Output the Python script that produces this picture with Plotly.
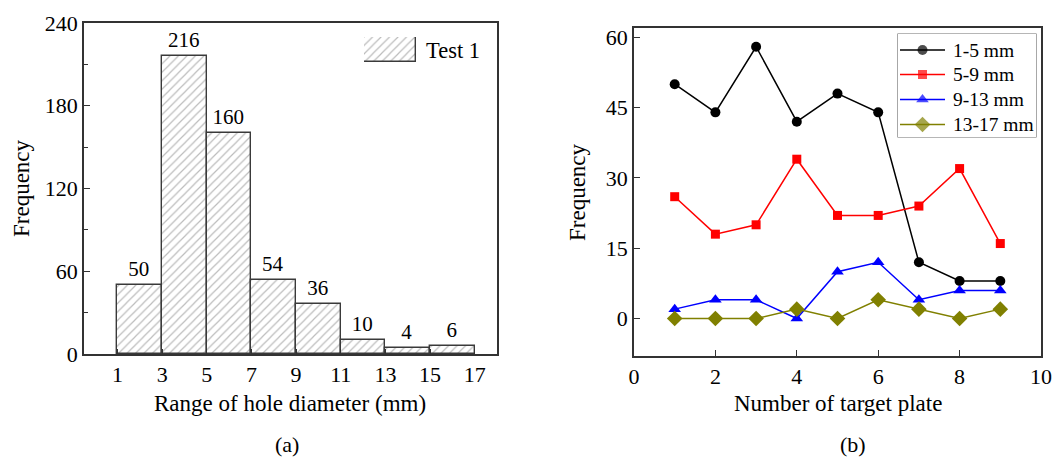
import plotly.graph_objects as go

# ---- data ----
bin_left = [1, 3, 5, 7, 9, 11, 13, 15]
bin_width = 2
counts = [50, 216, 160, 54, 36, 10, 4, 6]
hist_name = "Test 1"

plates = [1, 2, 3, 4, 5, 6, 7, 8, 9]
series_names = ["1-5 mm", "5-9 mm", "9-13 mm", "13-17 mm"]
s_1_5 = [50, 44, 58, 42, 48, 44, 12, 8, 8]
s_5_9 = [26, 18, 20, 34, 22, 22, 24, 32, 16]
s_9_13 = [2, 4, 4, 0, 10, 12, 4, 6, 6]
s_13_17 = [0, 0, 0, 2, 0, 4, 2, 0, 2]

left_xticks = [1, 3, 5, 7, 9, 11, 13, 15, 17]
left_yticks = [0, 60, 120, 180, 240]
left_yminor = [30, 90, 150, 210]
right_xticks = [0, 2, 4, 6, 8, 10]
right_yticks = [0, 15, 30, 45, 60]

W, H = 1054, 457
FONT = "Liberation Serif, Times New Roman, serif"
AXC = "#333333"

def px_x(p):
    return p / W

def px_y(p):
    return 1 - p / H

fig = go.Figure()

pattern = dict(shape="/", fgcolor="#7a7a7a", bgcolor="white", size=6, solidity=0.2)

centers = [b + bin_width / 2 for b in bin_left]
fig.add_trace(go.Bar(
    x=centers, y=counts, width=[bin_width] * len(counts),
    marker=dict(color="white", pattern=pattern, line=dict(color="#3a3a3a", width=1.4)),
    text=[str(c) for c in counts], textposition="outside", cliponaxis=False,
    constraintext="none",
    textfont=dict(family=FONT, size=21, color="black"),
    xaxis="x", yaxis="y", showlegend=False, name=hist_name,
))

# legend swatch for histogram (own hidden axes)
fig.add_trace(go.Bar(
    x=[0.5], y=[1], width=[1],
    marker=dict(color="white", pattern=pattern, line=dict(color="#3a3a3a", width=1.4)),
    xaxis="x3", yaxis="y3", showlegend=False, hoverinfo="skip",
))

colors = ["black", "#ff0000", "#0000ff", "#808000"]
symbols = ["circle", "square", "triangle-up", "diamond"]
sizes = [10, 9, 11, 12]
all_series = [s_1_5, s_5_9, s_9_13, s_13_17]
for name, vals, c, s, sz in zip(series_names, all_series, colors, symbols, sizes):
    fig.add_trace(go.Scatter(
        x=plates, y=vals, name=name, mode="lines+markers",
        line=dict(color=c, width=1.5),
        marker=dict(symbol=s, size=sz, color=c),
        xaxis="x2", yaxis="y2", cliponaxis=False, showlegend=False,
    ))

# ---- custom legend for panel (b), drawn on a hidden pixel-unit axis ----
LG_L, LG_R, LG_T, LG_B = 898, 1036, 34, 137
row_y = [50, 74.5, 99.5, 124.5]
line_x0, line_x1 = 900, 945
for name, c, s, sz, ry in zip(series_names, colors, symbols, sizes, row_y):
    fig.add_trace(go.Scatter(
        x=[line_x0, (line_x0 + line_x1) / 2, line_x1], y=[ry, ry, ry],
        mode="lines+markers", line=dict(color=c, width=1.5),
        marker=dict(symbol=s, size=[0, sz, 0], color=c, line=dict(width=0)),
        xaxis="x4", yaxis="y4", showlegend=False, hoverinfo="skip", cliponaxis=False,
    ))

tickfont = dict(family=FONT, size=22, color="black")
common_axis = dict(showline=True, linecolor=AXC, linewidth=1.5, mirror=True,
                   ticks="inside", tickcolor=AXC, tickwidth=1.2, showgrid=False,
                   zeroline=False, tickfont=tickfont, automargin=False)

fig.update_layout(
    width=W, height=H,
    margin=dict(l=0, r=0, t=0, b=0, pad=0, autoexpand=False),
    paper_bgcolor="white", plot_bgcolor="white",
    font=dict(family=FONT, color="black"),
    bargap=0,
    showlegend=False,
    xaxis=dict(domain=[px_x(84), px_x(497)], range=[-0.5, 18], tickvals=left_xticks,
               ticklen=5, anchor="y", **common_axis),
    yaxis=dict(domain=[px_y(354), px_y(23)], range=[0, 240], tickvals=left_yticks,
               ticklen=6, anchor="x",
               minor=dict(ticks="inside", ticklen=4, tickvals=left_yminor, tickcolor=AXC),
               **common_axis),
    xaxis2=dict(domain=[px_x(634), px_x(1041)], range=[0, 10], tickvals=right_xticks,
                ticklen=6, anchor="y2", **common_axis),
    yaxis2=dict(domain=[px_y(356), px_y(28)], range=[-8, 62], tickvals=right_yticks,
                ticklen=6, anchor="x2", **common_axis),
    xaxis3=dict(domain=[px_x(364), px_x(416)], range=[0, 1], visible=False, anchor="y3", fixedrange=True),
    yaxis3=dict(domain=[px_y(62), px_y(37)], range=[0, 1], visible=False, anchor="x3", fixedrange=True),
    xaxis4=dict(domain=[px_x(LG_L), px_x(LG_R)], range=[LG_L, LG_R], visible=False,
                anchor="y4", fixedrange=True),
    yaxis4=dict(domain=[px_y(LG_B), px_y(LG_T)], range=[LG_B, LG_T], visible=False,
                anchor="x4", fixedrange=True),
)

# legend frame for panel (b)
fig.add_shape(type="rect", xref="paper", yref="paper",
              x0=px_x(LG_L), x1=px_x(LG_R), y0=px_y(LG_B), y1=px_y(LG_T),
              line=dict(color="#6e6e6e", width=1.2), fillcolor="rgba(0,0,0,0)", layer="below")

ann = [
    dict(text="Frequency", x=px_x(21), y=px_y(188), textangle=-90, font=dict(size=23)),
    dict(text="Range of hole diameter (mm)", x=px_x(290), y=px_y(403), font=dict(size=23)),
    dict(text="Frequency", x=px_x(577), y=px_y(192), textangle=-90, font=dict(size=23)),
    dict(text="Number of target plate", x=px_x(838), y=px_y(403), font=dict(size=23)),
    dict(text="(a)", x=px_x(287), y=px_y(444), font=dict(size=22)),
    dict(text="(b)", x=px_x(853), y=px_y(444), font=dict(size=22)),
    dict(text=hist_name, x=px_x(424), y=px_y(50), xanchor="left", font=dict(size=22.5)),
]
for name, ry in zip(series_names, row_y):
    ann.append(dict(text=name, x=px_x(951), y=px_y(ry), xanchor="left", font=dict(size=19.5)))

for a in ann:
    a.setdefault("xanchor", "center")
    fig.add_annotation(xref="paper", yref="paper", yanchor="middle", showarrow=False,
                       font_family=FONT, font_color="black", **a)

fig.write_html("out.html", config={"displayModeBar": False},
               post_script="document.body.style.margin='0';document.body.style.overflow='hidden';")
